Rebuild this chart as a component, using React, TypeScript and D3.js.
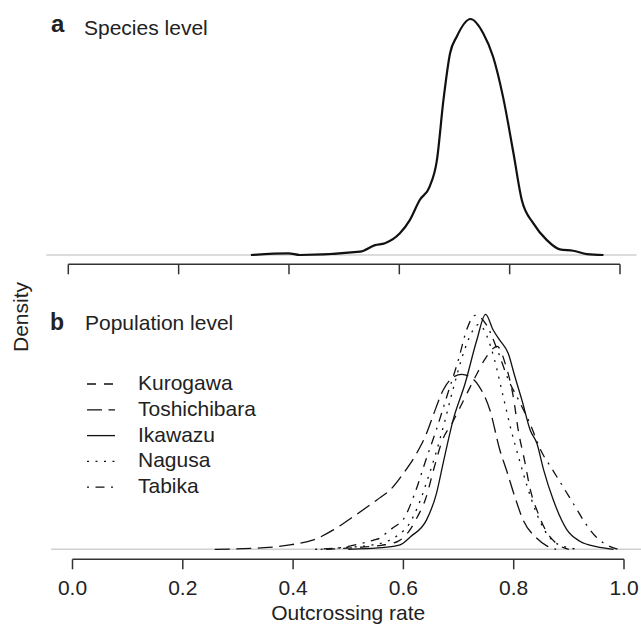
import React from 'react';
import * as d3 from 'd3';

const W = 641;
const H = 626;
const FONT = '"Liberation Sans", Arial, Helvetica, sans-serif';

const xTicks = [0, 0.2, 0.4, 0.6, 0.8, 1.0];
const xTickLabels = ['0.0', '0.2', '0.4', '0.6', '0.8', '1.0'];

// panel a: species level density of outcrossing rate  [rate, density]
const species: [number, number][] = [
  [0.331, 0], [0.399, 0.07], [0.42, 0], [0.529, 0.14], [0.556, 0.42], [0.574, 0.5],
  [0.601, 0.92], [0.619, 1.48], [0.637, 2.33], [0.655, 2.9], [0.668, 4.0], [0.68, 6.57],
  [0.692, 8.55], [0.704, 9.25], [0.729, 10], [0.752, 9.4], [0.77, 8.4], [0.788, 6.7],
  [0.807, 4.3], [0.822, 2.33], [0.843, 1.34], [0.867, 0.64], [0.891, 0.24], [0.915, 0.18],
  [0.94, 0.04], [0.97, 0],
];

// panel b: population level densities
const kurogawa: [number, number][] = [
  [0.46, 0], [0.52, 0.1], [0.56, 0.2], [0.59, 0.4], [0.61, 0.9], [0.625, 1.6], [0.64, 2.5],
  [0.655, 4.0], [0.67, 5.4], [0.69, 6.4], [0.71, 7.5], [0.73, 8.6], [0.75, 9.6], [0.77, 10.15],
  [0.785, 9.25], [0.8, 7.5], [0.808, 6.0], [0.82, 4.4], [0.83, 3.0], [0.845, 1.75],
  [0.857, 1.0], [0.875, 0.35], [0.9, 0],
];
const toshichibara: [number, number][] = [
  [0.258, 0], [0.348, 0.08], [0.394, 0.22], [0.437, 0.47], [0.473, 0.97], [0.509, 1.63],
  [0.552, 2.47], [0.576, 2.97], [0.6, 3.8], [0.624, 4.8], [0.642, 5.8], [0.654, 6.7],
  [0.672, 7.95], [0.69, 8.6], [0.706, 8.75], [0.722, 8.6], [0.736, 8.2], [0.757, 6.95],
  [0.775, 4.95], [0.787, 3.95], [0.802, 2.63], [0.817, 1.47], [0.842, 0.55], [0.86, 0.17],
  [0.877, 0],
];
const ikawazu: [number, number][] = [
  [0.5, 0], [0.56, 0.08], [0.594, 0.22], [0.613, 0.63], [0.642, 1.47], [0.66, 2.8],
  [0.672, 4.3], [0.69, 6.45], [0.712, 8.3], [0.733, 10.45], [0.749, 11.75], [0.763, 10.95],
  [0.775, 10.45], [0.79, 9.8], [0.802, 8.65], [0.815, 7.45], [0.83, 5.95], [0.842, 5.3],
  [0.854, 4.0], [0.872, 2.45], [0.896, 1.0], [0.92, 0.4], [0.95, 0.13], [0.981, 0],
];
const nagusa: [number, number][] = [
  [0.45, 0], [0.5, 0.1], [0.54, 0.2], [0.57, 0.4], [0.59, 0.7], [0.61, 1.25], [0.63, 2.4],
  [0.645, 3.6], [0.66, 4.9], [0.675, 6.4], [0.69, 8.0], [0.71, 9.9], [0.725, 10.9],
  [0.737, 11.25], [0.75, 10.75], [0.765, 9.5], [0.78, 7.75], [0.795, 6.0], [0.81, 4.5],
  [0.825, 3.1], [0.84, 1.9], [0.855, 1.0], [0.87, 0.45], [0.89, 0.15], [0.92, 0],
];
const tabika: [number, number][] = [
  [0.44, 0], [0.49, 0.1], [0.525, 0.3], [0.545, 0.45], [0.56, 0.6], [0.572, 0.9],
  [0.585, 1.15], [0.6, 1.5], [0.62, 2.75], [0.64, 4.4], [0.66, 6.0], [0.68, 7.75],
  [0.7, 9.5], [0.715, 11.0], [0.73, 11.7], [0.75, 11.25], [0.77, 10.0], [0.79, 8.5],
  [0.81, 7.4], [0.83, 6.25], [0.85, 4.9], [0.87, 4.0], [0.89, 3.1], [0.91, 2.2],
  [0.93, 1.3], [0.95, 0.6], [0.97, 0.2], [0.99, 0],
];

const popNames = ['Kurogawa', 'Toshichibara', 'Ikawazu', 'Nagusa', 'Tabika'];
const popData = [kurogawa, toshichibara, ikawazu, nagusa, tabika];
// R line types 2,5,1,3,4
const popDash = ['9 8', '15 6.5', 'none', '2 6.5', '2 6.5 9 6.5'];

export default function App() {
  // panel a
  const xA = d3.scaleLinear().domain([0, 1]).range([68.3, 620]);
  const yA = d3.scaleLinear().domain([0, 10]).range([255, 19]);
  const axisA = 264.3;
  // panel b
  const xB = d3.scaleLinear().domain([0, 1]).range([72.5, 624]);
  const yB = d3.scaleLinear().domain([0, 12]).range([549.3, 309.3]);
  const axisB = 559.3;

  const lineA = d3.line<[number, number]>().x(d => xA(d[0])).y(d => yA(d[1])).curve(d3.curveMonotoneX);
  const lineB = d3.line<[number, number]>().x(d => xB(d[0])).y(d => yB(d[1])).curve(d3.curveMonotoneX);

  const txt = '#222';
  const axisCol = '#333';

  return (
    <svg width={W} height={H} style={{ position: 'absolute', left: 0, top: 0 }} fontFamily={FONT}>
      <rect width={W} height={H} fill="#fff" />

      {/* panel a */}
      <line x1={xA(-0.04)} x2={xA(1.03)} y1={yA(0)} y2={yA(0)} stroke="#d0d0d0" strokeWidth={1.5} />
      <path d={lineA(species) || ''} fill="none" stroke="#111" strokeWidth={2.2} strokeLinejoin="round" />
      <line x1={xA(0)} x2={xA(1)} y1={axisA} y2={axisA} stroke={axisCol} strokeWidth={1.5} />
      {xTicks.map(t => (
        <line key={'ta' + t} x1={xA(t)} x2={xA(t)} y1={axisA} y2={axisA + 10} stroke={axisCol} strokeWidth={1.5} />
      ))}
      <text x={51} y={32} fontSize={24} fontWeight="bold" fill={txt}>a</text>
      <text x={84} y={35} fontSize={21} fill={txt}>Species level</text>

      {/* panel b */}
      <line x1={xB(-0.039)} x2={xB(1.04)} y1={yB(0)} y2={yB(0)} stroke="#d0d0d0" strokeWidth={1.5} />
      {popData.map((d, i) => (
        <path key={popNames[i]} d={lineB(d) || ''} fill="none" stroke="#111" strokeWidth={1.3}
          strokeDasharray={popDash[i]} strokeLinejoin="round" />
      ))}
      <line x1={xB(0)} x2={xB(1)} y1={axisB} y2={axisB} stroke={axisCol} strokeWidth={1.5} />
      {xTicks.map((t, i) => (
        <g key={'tb' + t}>
          <line x1={xB(t)} x2={xB(t)} y1={axisB} y2={axisB + 10} stroke={axisCol} strokeWidth={1.5} />
          <text x={xB(t)} y={595} fontSize={21} textAnchor="middle" fill={txt}>{xTickLabels[i]}</text>
        </g>
      ))}
      <text x={50} y={330} fontSize={23} fontWeight="bold" fill={txt}>b</text>
      <text x={85} y={330} fontSize={21} fill={txt}>Population level</text>

      {/* legend */}
      {popNames.map((n, i) => {
        const by = 390 + i * 25.8;
        return (
          <g key={'lg' + n}>
            <line x1={87} x2={115} y1={by - 6} y2={by - 6} stroke="#111" strokeWidth={1.3} strokeDasharray={popDash[i]} />
            <text x={138} y={by} fontSize={21} fill={txt}>{n}</text>
          </g>
        );
      })}

      {/* shared labels */}
      <text transform="translate(28,317) rotate(-90)" fontSize={21} textAnchor="middle" fill={txt}>Density</text>
      <text x={(xB(0) + xB(1)) / 2} y={620} fontSize={21} textAnchor="middle" fill={txt}>Outcrossing rate</text>
    </svg>
  );
}
